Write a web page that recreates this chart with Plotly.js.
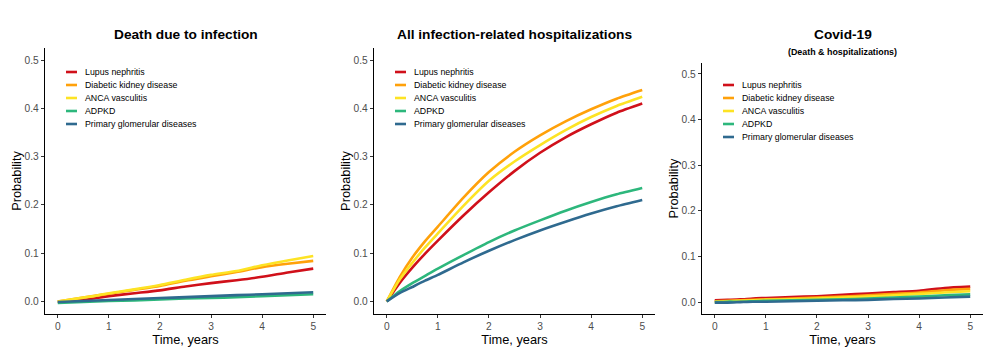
<!DOCTYPE html>
<html>
<head>
<meta charset="utf-8">
<script src="https://cdn.plot.ly/plotly-3.0.1.min.js"></script>
<style>html,body{margin:0;padding:0;background:#fff;}#chart{width:998px;height:353px;}</style>
</head>
<body>
<div id="chart"></div>
<script>
// ---- data ----
const seriesNames = ["Lupus nephritis", "Diabetic kidney disease", "ANCA vasculitis", "ADPKD", "Primary glomerular diseases"];
const seriesColors = ["#D0101A", "#FFA10A", "#FDE324", "#2DB77C", "#2F6A8F"];
const time = [0, 0.25, 0.5, 0.75, 1, 1.5, 2, 2.5, 3, 3.5, 4, 4.5, 5];
const panelTitles = ["Death due to infection", "All infection-related hospitalizations", "Covid-19"];
const panel3Subtitle = "(Death & hospitalizations)";
const yTicks = [0, 0.1, 0.2, 0.3, 0.4, 0.5];
const yTickLabels = ["0.0", "0.1", "0.2", "0.3", "0.4", "0.5"];
const xTicks = [0, 1, 2, 3, 4, 5];

// Death due to infection
const death_lupus    = [0, 0.000, 0.003, 0.007, 0.011, 0.017, 0.023, 0.031, 0.038, 0.044, 0.051, 0.060, 0.068];
const death_diabetic = [0, 0.004, 0.008, 0.012, 0.016, 0.024, 0.032, 0.043, 0.052, 0.061, 0.071, 0.078, 0.084];
const death_anca     = [0, 0.004, 0.008, 0.012, 0.017, 0.025, 0.034, 0.045, 0.055, 0.063, 0.075, 0.085, 0.094];
const death_adpkd    = [-0.003, -0.002, -0.001, 0.000, 0.001, 0.002, 0.004, 0.006, 0.007, 0.009, 0.011, 0.013, 0.015];
const death_primary  = [-0.001, 0.000, 0.001, 0.002, 0.003, 0.005, 0.007, 0.009, 0.011, 0.013, 0.015, 0.017, 0.019];

// All infection-related hospitalizations
const hosp_lupus    = [0, 0.038, 0.070, 0.099, 0.126, 0.178, 0.226, 0.270, 0.308, 0.340, 0.367, 0.391, 0.410];
const hosp_diabetic = [0, 0.050, 0.091, 0.125, 0.155, 0.215, 0.268, 0.310, 0.344, 0.373, 0.398, 0.420, 0.438];
const hosp_anca     = [0, 0.045, 0.080, 0.112, 0.141, 0.198, 0.250, 0.290, 0.324, 0.355, 0.382, 0.405, 0.424];
const hosp_adpkd    = [0, 0.021, 0.038, 0.053, 0.068, 0.096, 0.123, 0.147, 0.168, 0.188, 0.206, 0.222, 0.235];
const hosp_primary  = [0, 0.017, 0.030, 0.043, 0.055, 0.081, 0.105, 0.127, 0.147, 0.165, 0.182, 0.197, 0.210];

// Covid-19
const covid_lupus    = [0.004, 0.005, 0.006, 0.008, 0.009, 0.011, 0.013, 0.016, 0.019, 0.022, 0.025, 0.031, 0.034];
const covid_diabetic = [0.002, 0.003, 0.004, 0.005, 0.006, 0.008, 0.010, 0.012, 0.015, 0.018, 0.021, 0.026, 0.029];
const covid_anca     = [0.001, 0.002, 0.003, 0.004, 0.005, 0.006, 0.008, 0.010, 0.012, 0.015, 0.018, 0.021, 0.024];
const covid_adpkd    = [0.000, 0.001, 0.001, 0.002, 0.003, 0.004, 0.005, 0.006, 0.008, 0.010, 0.012, 0.015, 0.017];
const covid_primary  = [-0.001, -0.001, 0.000, 0.001, 0.001, 0.002, 0.003, 0.004, 0.005, 0.007, 0.008, 0.010, 0.012];

const panels = [
  [death_lupus, death_diabetic, death_anca, death_adpkd, death_primary],
  [hosp_lupus, hosp_diabetic, hosp_anca, hosp_adpkd, hosp_primary],
  [covid_lupus, covid_diabetic, covid_anca, covid_adpkd, covid_primary]
];

// ---- layout helpers ----
const W = 998, H = 353;
const FONT = "Liberation Sans, Arial, sans-serif";
const px = v => v / W;
const py = v => 1 - v / H;
// panel pixel boxes [left, right, top, bottom]
const boxes = [[45, 326, 48, 314], [374, 655, 48, 314], [702, 983, 63, 314]];
const legendTop = [72, 72, 85];

const traces = [];
panels.forEach((series, p) => {
  const ax = p === 0 ? "" : String(p + 1);
  series.forEach((ys, i) => {
    traces.push({
      type: "scatter", mode: "lines", x: time, y: ys,
      xaxis: "x" + ax, yaxis: "y" + ax,
      name: seriesNames[i], showlegend: false,
      line: {color: seriesColors[i], width: 2.6, shape: "spline", smoothing: 0.6},
      hoverinfo: "skip"
    });
  });
});

const layout = {
  width: W, height: H,
  margin: {l: 0, r: 0, t: 0, b: 0},
  paper_bgcolor: "#ffffff", plot_bgcolor: "#ffffff",
  font: {family: FONT, color: "#000"},
  showlegend: false,
  annotations: [], shapes: []
};

boxes.forEach((b, p) => {
  const ax = p === 0 ? "" : String(p + 1);
  const yr = p === 2 ? [-0.026, 0.524] : [-0.026, 0.525];
  layout["xaxis" + ax] = {
    domain: [px(b[0]), px(b[1])], anchor: "y" + ax,
    range: [-0.25, 5.25], tickvals: xTicks, ticktext: xTicks.map(String),
    showgrid: false, zeroline: false, showline: true, linecolor: "#000", linewidth: 1.2,
    ticks: "outside", ticklen: 3, tickcolor: "#333", tickwidth: 1,
    tickfont: {size: 10.2, color: "#4D4D4D", family: FONT},
    title: {text: "Time, years", font: {size: 12.8, color: "#000", family: FONT}, standoff: 0},
    fixedrange: true
  };
  layout["yaxis" + ax] = {
    domain: [py(b[3]), py(b[2])], anchor: "x" + ax,
    range: yr, tickvals: yTicks, ticktext: yTickLabels,
    showgrid: false, zeroline: false, showline: true, linecolor: "#000", linewidth: 1.2,
    ticks: "outside", ticklen: 3, tickcolor: "#333", tickwidth: 1,
    tickfont: {size: 10.2, color: "#4D4D4D", family: FONT},
    title: {text: "Probability", font: {size: 12.8, color: "#000", family: FONT}, standoff: 0},
    fixedrange: true
  };
  // panel title
  layout.annotations.push({
    xref: "paper", yref: "paper", x: px((b[0] + b[1]) / 2), y: py(35),
    xanchor: "center", yanchor: "middle", showarrow: false,
    text: "<b>" + panelTitles[p] + "</b>", font: {size: 13.7, color: "#000", family: FONT}
  });
  // legend (glyph + label per series)
  seriesNames.forEach((name, i) => {
    const yy = legendTop[p] + i * 13;
    layout.shapes.push({
      type: "line", xref: "paper", yref: "paper",
      x0: px(b[0] + 21), x1: px(b[0] + 32), y0: py(yy), y1: py(yy),
      line: {color: seriesColors[i], width: 2.6}
    });
    layout.annotations.push({
      xref: "paper", yref: "paper", x: px(b[0] + 38), y: py(yy),
      xanchor: "left", yanchor: "middle", showarrow: false,
      text: name, font: {size: 8.8, color: "#000", family: FONT}
    });
  });
});
layout.annotations.push({
  xref: "paper", yref: "paper", x: px((boxes[2][0] + boxes[2][1]) / 2), y: py(52),
  xanchor: "center", yanchor: "middle", showarrow: false,
  text: "<b>" + panel3Subtitle + "</b>", font: {size: 8.9, color: "#000", family: FONT}
});

Plotly.newPlot("chart", traces, layout, {displayModeBar: false, staticPlot: true});
</script>
</body>
</html>
